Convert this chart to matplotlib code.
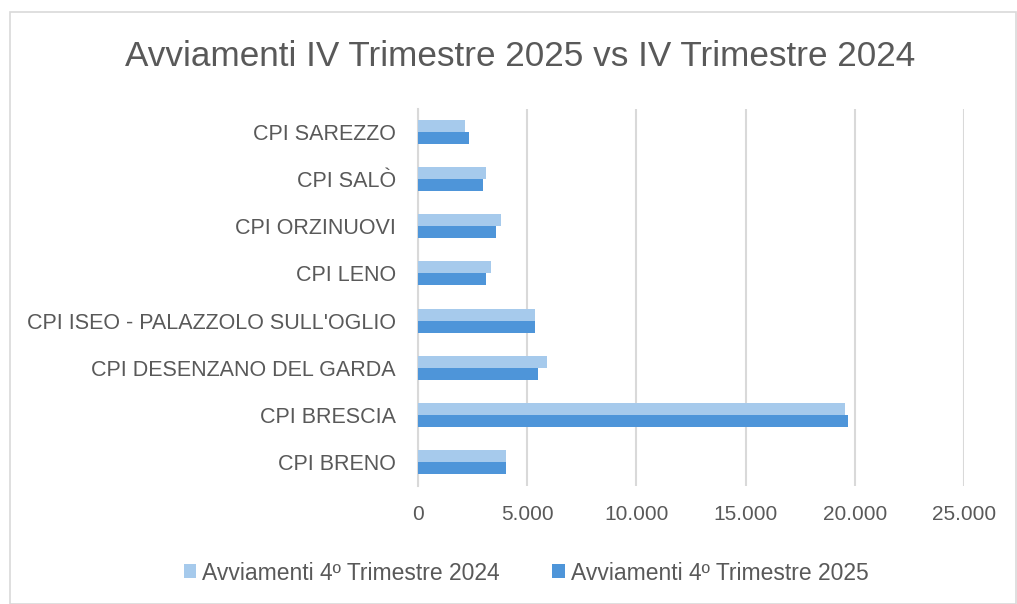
import matplotlib.pyplot as plt
import matplotlib.patches as mpatches
import numpy as np

# Data (bottom to top)
categories = ["CPI BRENO", "CPI BRESCIA", "CPI DESENZANO DEL GARDA",
              "CPI ISEO - PALAZZOLO SULL'OGLIO", "CPI LENO", "CPI ORZINUOVI",
              "CPI SALÒ", "CPI SAREZZO"]
avv_2024 = [4040, 19570, 5900, 5340, 3320, 3820, 3120, 2160]
avv_2025 = [4040, 19710, 5480, 5380, 3120, 3590, 2980, 2340]
xticks = [0, 5000, 10000, 15000, 20000, 25000]

plt.rcParams['font.family'] = ['Liberation Sans', 'DejaVu Sans']
textColor = "#595959"

fig = plt.figure(figsize=(10.17, 6.04), dpi=100)
W, H = 1017, 604
ax = fig.add_axes([418/W, 1-485.5/H, (964-418)/W, (485.5-108.5)/H])

y = np.arange(len(categories))
h = 0.255
ax.barh(y+h/2, avv_2024, height=h, color="#A6CAEC", label="Avviamenti 4º Trimestre 2024", zorder=3)
ax.barh(y-h/2, avv_2025, height=h, color="#4E95D9", label="Avviamenti 4º Trimestre 2025", zorder=3)

ax.set_xlim(0, 25000)
ax.set_ylim(-0.5, len(categories)-0.5)
ax.set_xticks(xticks)
ax.set_xticklabels(["{:,}".format(v).replace(",", ".") for v in xticks])
ax.set_yticks(y)
ax.set_yticklabels(categories)
ax.tick_params(axis="x", length=0, labelsize=15, colors=textColor, pad=14)
ax.tick_params(axis="y", length=0, labelsize=15.5, colors=textColor, pad=16)
ax.grid(axis="x", color="#D9D9D9", linewidth=1.5, zorder=0)
for s in ["top", "right", "bottom"]:
    ax.spines[s].set_visible(False)
ax.spines["left"].set_color("#D9D9D9")
ax.spines["left"].set_linewidth(1.5)

fig.text(520/W, 1-56/H, "Avviamenti IV Trimestre 2025 vs IV Trimestre 2024",
         ha="center", va="center", fontsize=25.3, color=textColor)

handles, labels = ax.get_legend_handles_labels()
fig.legend(handles, labels, loc="center", bbox_to_anchor=(526/W, 1-573/H), ncol=2,
           frameon=False, fontsize=16.5, labelcolor=textColor, handlelength=0.55,
           handleheight=0.55, handletextpad=0.25, columnspacing=2.3)

# Chart border
fig.patches.append(mpatches.Rectangle((10/W, 0), (W-11)/W, 1-12/H, transform=fig.transFigure,
                                      fill=False, edgecolor="#D9D9D9", linewidth=1.2))

fig.savefig("out.png", dpi=100)
